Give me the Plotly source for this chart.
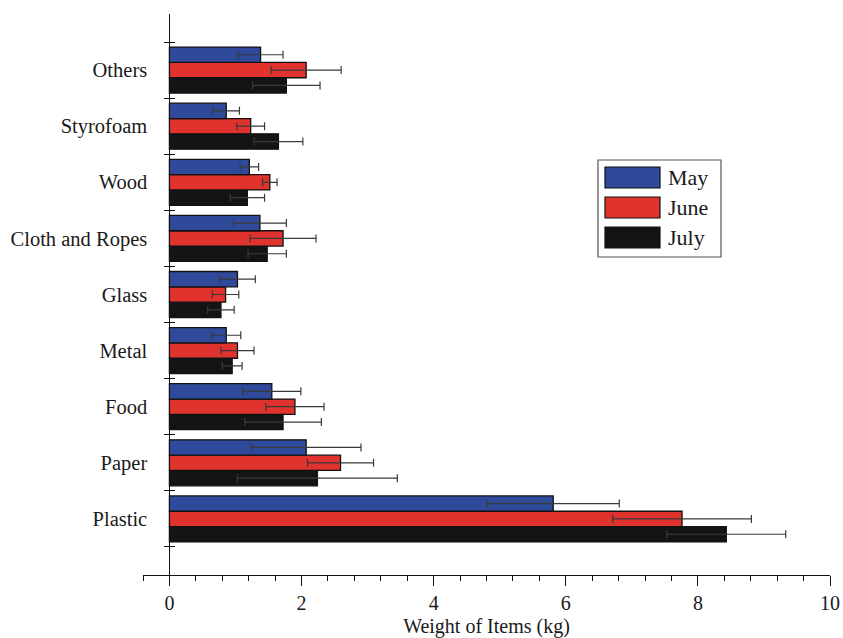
import plotly.graph_objects as go

# Waste categories, listed bottom to top
categories = ["Plastic", "Paper", "Food", "Metal", "Glass",
              "Cloth and Ropes", "Wood", "Styrofoam", "Others"]

# Mean weight (kg) per month
may = [5.81, 2.07, 1.55, 0.86, 1.03, 1.37, 1.21, 0.86, 1.38]
june = [7.76, 2.59, 1.90, 1.03, 0.85, 1.72, 1.52, 1.23, 2.07]
july = [8.43, 2.24, 1.72, 0.95, 0.78, 1.48, 1.18, 1.65, 1.77]

# Error (kg), symmetric
may_err = [1.00, 0.83, 0.44, 0.22, 0.27, 0.40, 0.14, 0.20, 0.34]
june_err = [1.05, 0.50, 0.44, 0.25, 0.20, 0.50, 0.11, 0.21, 0.53]
july_err = [0.90, 1.21, 0.58, 0.15, 0.20, 0.29, 0.26, 0.37, 0.51]

months = ["May", "June", "July"]
colors = {"May": "#2f4a9b", "June": "#e0332e", "July": "#141416"}
values = {"May": may, "June": june, "July": july}
errors = {"May": may_err, "June": june_err, "July": july_err}

FONT = "Liberation Serif, Times New Roman, serif"
W, H = 843, 638
ML, MR, MT, MB = 143, 13, 14, 63
XMIN, XMAX = -0.4, 10

fig = go.Figure()

# July first so that May sits on top within each group
for m in reversed(months):
    fig.add_trace(go.Bar(
        y=categories, x=values[m], name=m, orientation="h",
        marker=dict(color=colors[m], line=dict(color="#111111", width=1.3)),
        error_x=dict(type="data", array=errors[m], symmetric=True,
                     color="#3a3a3a", thickness=1.2, width=4),
        showlegend=False,
    ))

# carrier trace for the overlay axis that draws inward boundary ticks
fig.add_trace(go.Scatter(x=[], y=[], yaxis="y2", showlegend=False, hoverinfo="skip"))

yaxis_pos = (0 - XMIN) / (XMAX - XMIN)
boundaries = [i - 0.5 for i in range(len(categories) + 1)]

fig.update_layout(
    width=W, height=H,
    margin=dict(l=ML, r=MR, t=MT, b=MB, autoexpand=False),
    paper_bgcolor="white", plot_bgcolor="white",
    barmode="group", bargap=0.18, bargroupgap=0,
    font=dict(family=FONT, size=20, color="#1a1a1a"),
    xaxis=dict(
        range=[XMIN, XMAX], domain=[0, 1],
        tickvals=[0, 2, 4, 6, 8, 10],
        ticks="outside", ticklen=10, tickwidth=1.2, tickcolor="#111111",
        minor=dict(dtick=0.4, tick0=0, ticks="outside", ticklen=5,
                   tickwidth=1.2, tickcolor="#111111"),
        showline=True, linecolor="#111111", linewidth=1.2,
        showgrid=False, zeroline=False,
        tickfont=dict(family=FONT, size=20, color="#1a1a1a"),
        title=dict(text="Weight of Items (kg)", standoff=6,
                   font=dict(family=FONT, size=20, color="#1a1a1a")),
        automargin=False,
    ),
    yaxis=dict(
        type="category", range=[-1, len(categories)],
        anchor="free", position=yaxis_pos,
        tickson="boundaries", ticks="outside", ticklen=5, tickwidth=1.2,
        tickcolor="#111111", ticklabelstandoff=18,
        showline=True, linecolor="#111111", linewidth=1.2,
        showgrid=False, zeroline=False,
        tickfont=dict(family=FONT, size=20.5, color="#1a1a1a"),
        automargin=False,
    ),
    yaxis2=dict(
        overlaying="y", type="linear", range=[-1, len(categories)],
        anchor="free", position=yaxis_pos,
        tickvals=boundaries, ticks="inside", ticklen=5, tickwidth=1.2,
        tickcolor="#111111", showticklabels=False,
        showline=False, showgrid=False, zeroline=False,
    ),
)

# Legend box drawn with large swatches
pw, ph = W - ML - MR, H - MT - MB


def px_x(px):
    return (px - ML) / pw


def px_y(py):
    return (H - MB - py) / ph


fig.add_shape(type="rect", xref="paper", yref="paper",
              x0=px_x(598), x1=px_x(721), y0=px_y(257), y1=px_y(160),
              line=dict(color="#555555", width=1.2), fillcolor="white")
for i, m in enumerate(months):
    top = 167 + i * 30
    fig.add_shape(type="rect", xref="paper", yref="paper",
                  x0=px_x(605), x1=px_x(660), y0=px_y(top + 21), y1=px_y(top),
                  line=dict(color="#111111", width=1.2), fillcolor=colors[m])
    fig.add_annotation(x=px_x(666), y=px_y(top + 10.5), xref="paper", yref="paper",
                       text=m, showarrow=False, xanchor="left", yanchor="middle",
                       font=dict(family=FONT, size=22, color="#1a1a1a"))

fig.write_html("out.html")
